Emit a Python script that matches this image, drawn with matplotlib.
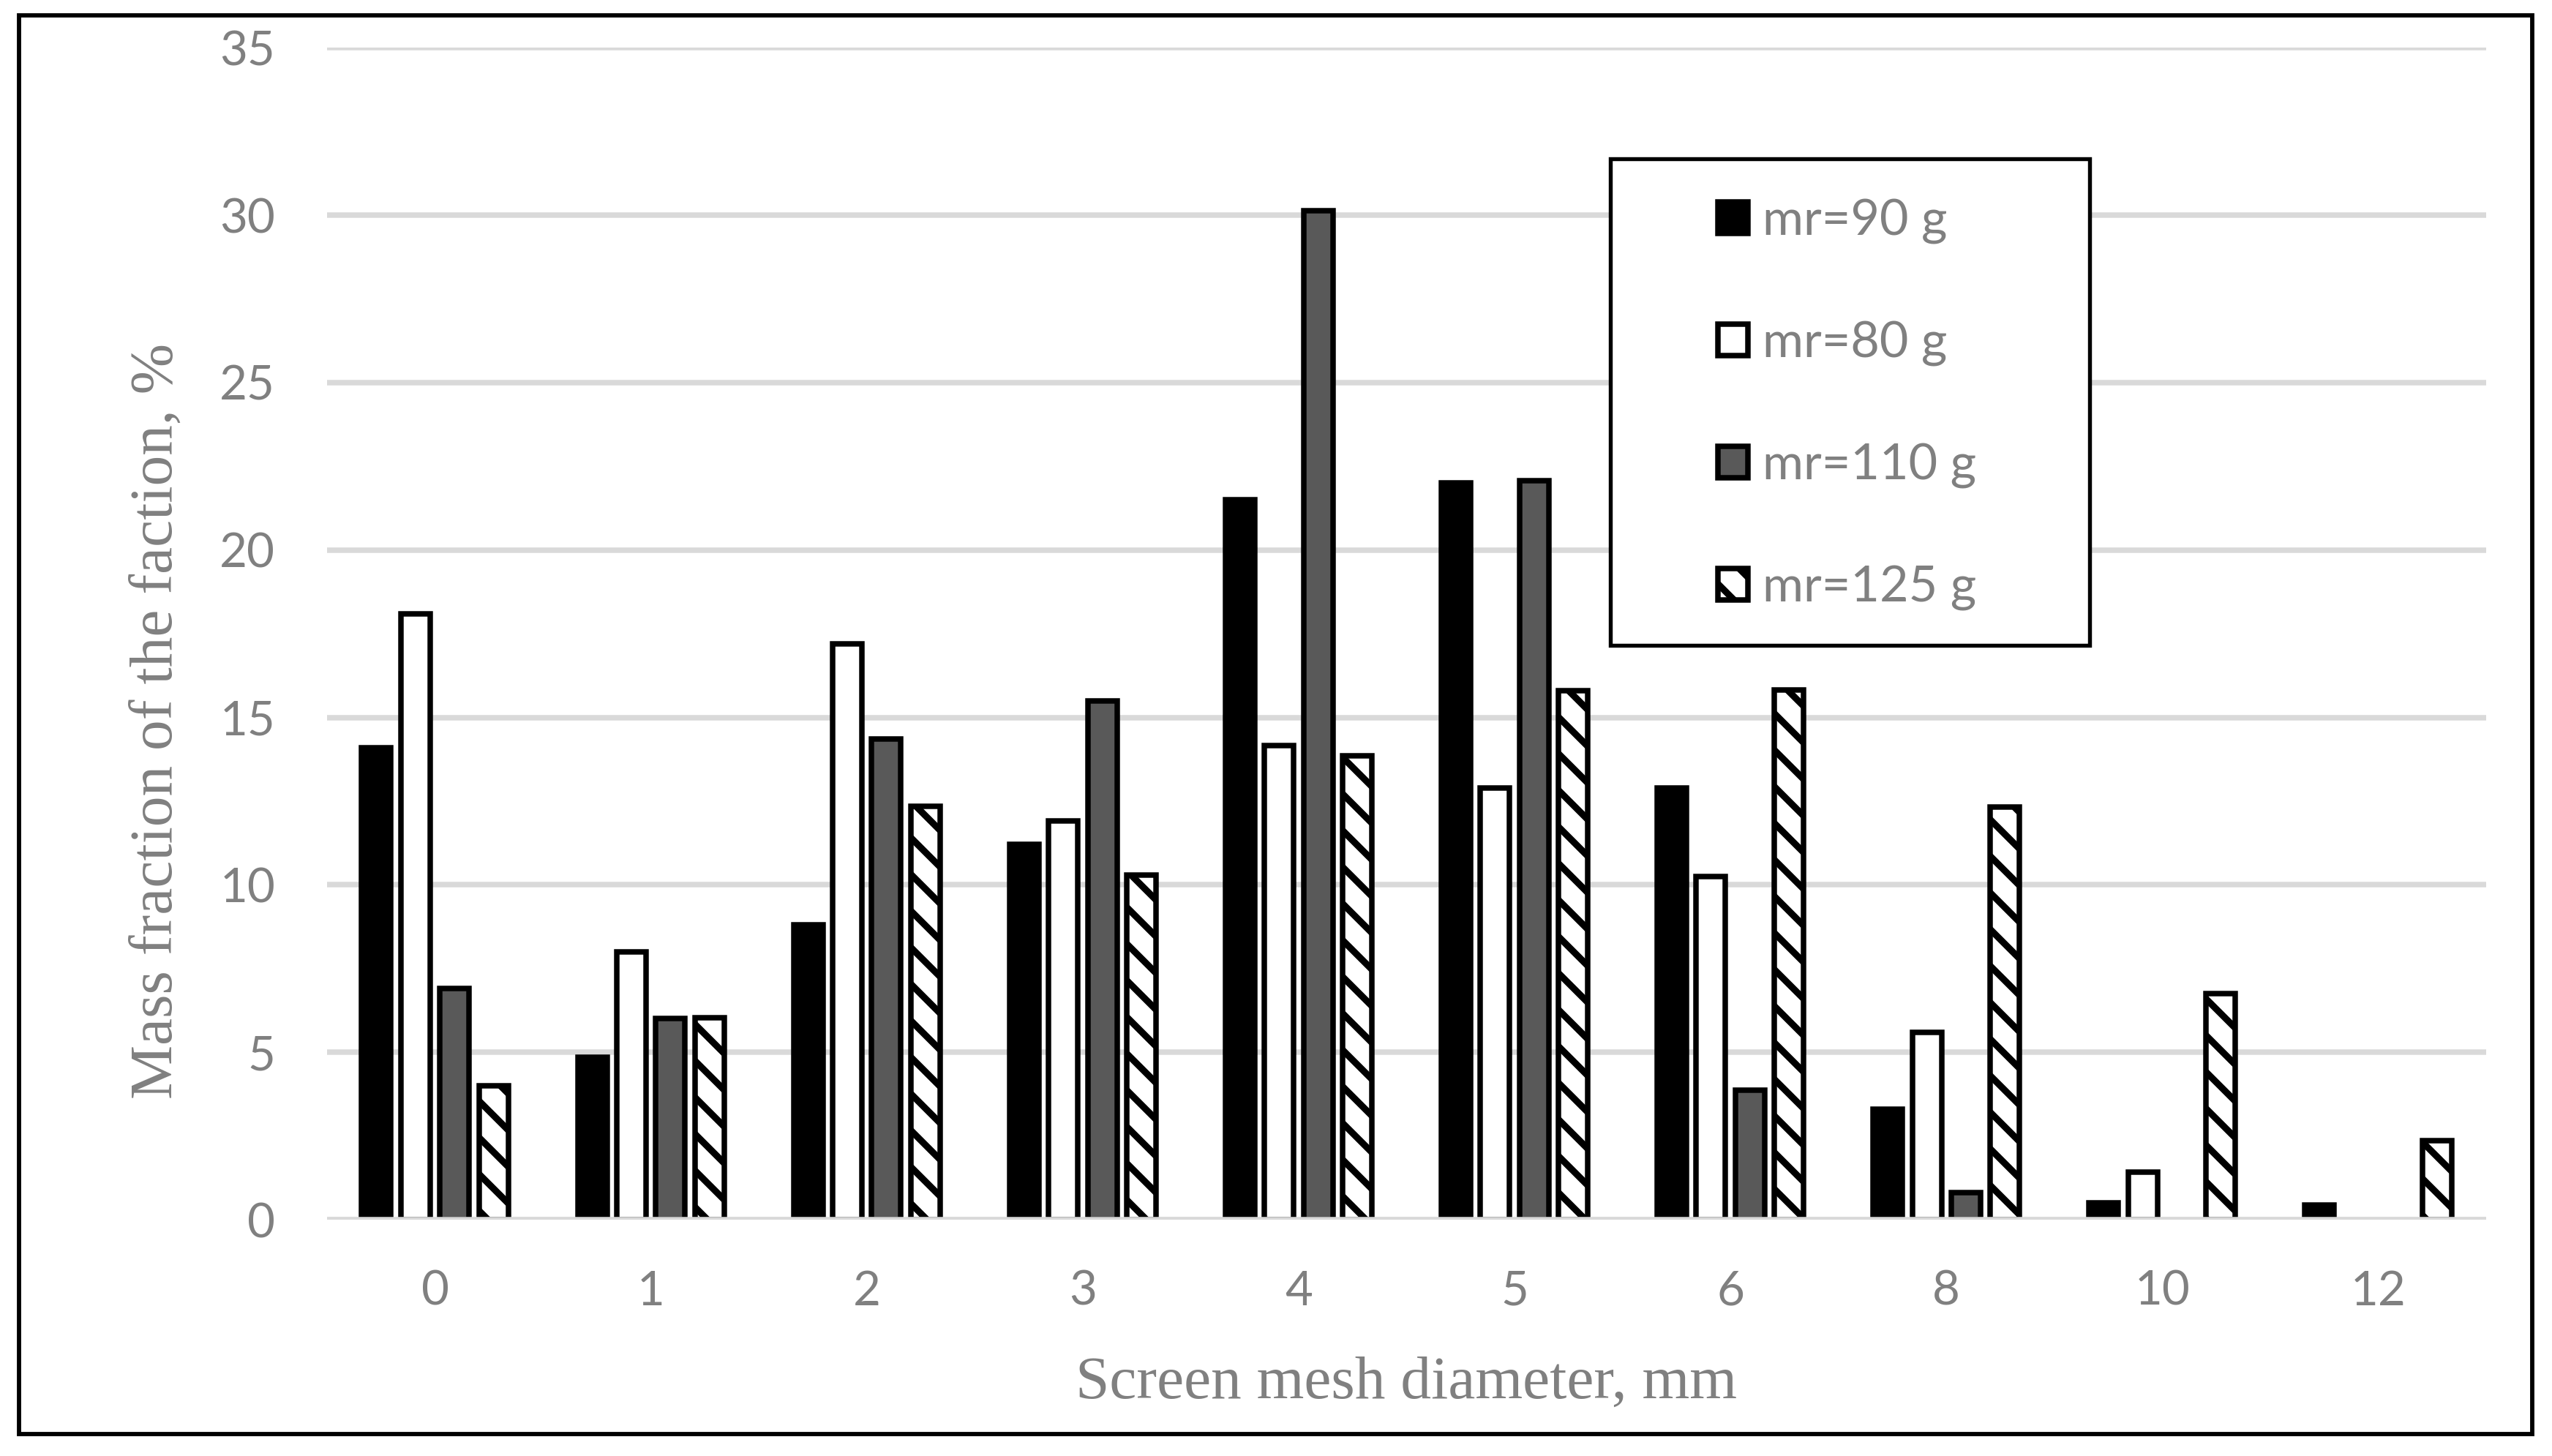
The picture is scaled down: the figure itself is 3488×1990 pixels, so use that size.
import numpy as np
import matplotlib
matplotlib.use("Agg")
import matplotlib.pyplot as plt
from matplotlib.patches import Rectangle

# values
categories = ["0", "1", "2", "3", "4", "5", "6", "8", "10", "12"]
mr90 = [14.1, 4.86, 8.8, 11.2, 21.5, 22.0, 12.9, 3.3, 0.5, 0.44]
mr80 = [18.1, 8.0, 17.2, 11.9, 14.15, 12.9, 10.25, 5.6, 1.43, np.nan]
mr110 = [6.9, 6.0, 14.35, 15.5, 30.13, 22.07, 3.87, 0.8, np.nan, np.nan]
mr125 = [4.0, 6.02, 12.35, 10.3, 13.85, 15.8, 15.83, 12.33, 6.75, 2.37]
labels = ["mr=90 g", "mr=80 g", "mr=110 g", "mr=125 g"]

plt.rcParams["font.family"] = ["Lato", "DejaVu Sans"]
plt.rcParams["hatch.linewidth"] = 2.2

grey_text = "#808080"

fig = plt.figure(figsize=(3488 / 300, 1990 / 300), dpi=300)
ax = fig.add_axes([0.12815, 0.16231, 0.97420 - 0.12815, 0.96724 - 0.16231])

x = np.arange(len(categories))
step = 0.181
width = 0.1355
series = [mr90, mr80, mr110, mr125]
faces = ["black", "white", "#595959", "white"]
hatches = [None, None, None, "\\\\"]

for i, vals in enumerate(series):
    ax.bar(x + (i - 1.5) * step, vals, width, label=labels[i],
           facecolor=faces[i], edgecolor="black", linewidth=1.8,
           hatch=hatches[i], zorder=2)

# axis line drawn over the bar bottoms like in Excel
ax.axhline(0, color="#d9d9d9", linewidth=1.8, zorder=3)

ax.set_xlim(-0.5, len(categories) - 0.5)
ax.set_ylim(0, 35)
ax.set_yticks(range(0, 36, 5))
ax.set_xticks(x)
ax.set_xticklabels(categories)
ax.set_axisbelow(True)
ax.yaxis.grid(True, color="#d9d9d9", linewidth=1.8)
for s in ax.spines.values():
    s.set_visible(False)
ax.tick_params(axis="both", length=0, labelsize=15.7, labelcolor=grey_text)
ax.tick_params(axis="y", pad=17)
ax.tick_params(axis="x", pad=16.5)

ax.set_xlabel("Screen mesh diameter, mm", fontfamily="Liberation Serif",
              fontsize=20, color=grey_text)
ax.xaxis.set_label_coords(0.5, -0.116)
ax.set_ylabel("Mass fraction of the faction, %", fontfamily="Liberation Serif",
              fontsize=20, color=grey_text)
ax.yaxis.set_label_coords(-0.0657, 0.4258)

# legend box
box = Rectangle((0.5945, 0.4902), 0.8164 - 0.5945, 0.9054 - 0.4902,
                transform=ax.transAxes, facecolor="white", edgecolor="black",
                linewidth=1.3, zorder=4, clip_on=False)
ax.add_patch(box)
leg = ax.legend(loc="center left", bbox_to_anchor=(0.6443, 0.6952),
                frameon=False, fontsize=16.4, borderaxespad=0, borderpad=0,
                handlelength=0.59, handleheight=0.59, handletextpad=0.3,
                labelspacing=1.53)
leg.set_zorder(5)
for t in leg.get_texts():
    t.set_color(grey_text)

# outer frame around the whole chart
fig.add_artist(Rectangle((0.00745, 0.01508), 0.99226 - 0.00745, 0.9892 - 0.01508,
                         transform=fig.transFigure, fill=False,
                         edgecolor="black", linewidth=1.4))

fig.savefig("out.png", dpi=300)
